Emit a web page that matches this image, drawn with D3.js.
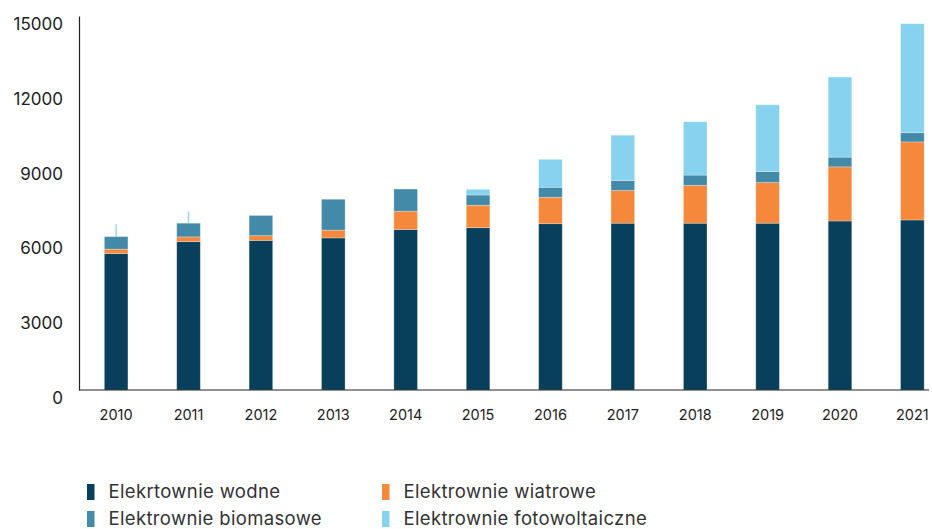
<!DOCTYPE html>
<html>
<head>
<meta charset="utf-8">
<script src="https://cdn.jsdelivr.net/npm/d3@7"></script>
<style>
  html, body { margin: 0; padding: 0; background: #fff; }
  svg { display: block; font-family: "Inter", "Noto Sans", sans-serif; }
</style>
</head>
<body>
<svg id="chart" width="932" height="529"></svg>
<script>
// Installed capacity by source, 2010–2021
const years = [2010, 2011, 2012, 2013, 2014, 2015, 2016, 2017, 2018, 2019, 2020, 2021];
const wodne = [5470, 5950, 6000, 6100, 6440, 6510, 6670, 6690, 6690, 6690, 6780, 6820];
const wiatrowe = [180, 190, 190, 310, 730, 900, 1060, 1310, 1520, 1630, 2170, 3130];
const biomasowe = [500, 550, 810, 1240, 890, 410, 400, 400, 410, 440, 390, 370];
const fotowoltaiczne = [500, 465, 0, 0, 0, 230, 1120, 1820, 2140, 2680, 3210, 4370];
// early photovoltaic entries are drawn as a hairline instead of a full bar
const hairlineYears = [2010, 2011];
const yTicks = [0, 3000, 6000, 9000, 12000, 15000];

const seriesNames = ["Elekrtownie wodne", "Elektrownie wiatrowe", "Elektrownie biomasowe", "Elektrownie fotowoltaiczne"];
const seriesColors = ["#083f5a", "#f5883a", "#428aa7", "#87d2ef"];
const seriesKeys = ["wodne", "wiatrowe", "biomasowe", "fotowoltaiczne"];

const table = years.map((y, i) => ({
  year: y,
  wodne: wodne[i],
  wiatrowe: wiatrowe[i],
  biomasowe: biomasowe[i],
  fotowoltaiczne: fotowoltaiczne[i]
}));

const svg = d3.select("#chart");

const x = d3.scaleBand()
  .domain(years)
  .range([79, 949.5])
  .paddingInner(0.674)
  .paddingOuter(0.35);

const y = d3.scaleLinear().domain([0, 15000]).range([390, 16]);

const stack = d3.stack().keys(seriesKeys);
const layers = stack(table);

const g = svg.append("g");
layers.forEach((layer, li) => {
  g.append("g")
    .attr("fill", seriesColors[li])
    .selectAll("rect")
    .data(layer.filter(d => d[1] - d[0] > 0))
    .join("rect")
    .each(function (d) {
      const hair = li === 3 && hairlineYears.includes(d.data.year);
      const sel = d3.select(this);
      const bw = x.bandwidth();
      if (hair) {
        sel.attr("x", x(d.data.year) + bw / 2 - 0.75)
          .attr("width", 1.5)
          .attr("fill-opacity", 0.85);
      } else {
        sel.attr("x", x(d.data.year))
          .attr("width", bw)
          .attr("stroke", "#ffffff")
          .attr("stroke-opacity", 0.35)
          .attr("stroke-width", 0.8);
      }
      sel.attr("y", y(d[1]))
        .attr("height", y(d[0]) - y(d[1]));
    });
});

// axes
const yAxis = d3.axisLeft(y).tickValues(yTicks).tickSize(0).tickPadding(0).tickFormat(d3.format("d"));
const yg = svg.append("g").attr("transform", "translate(79,0)").call(yAxis);
yg.select(".domain").attr("stroke", "#222").attr("stroke-width", 1.2);
yg.selectAll("text")
  .attr("x", -16)
  .attr("dy", "0.32em")
  .attr("y", 8)
  .attr("font-size", 17)
  .attr("fill", "#222")
  .attr("font-family", "Inter, sans-serif");

const xAxis = d3.axisBottom(x).tickSize(0).tickPadding(0);
const xg = svg.append("g").attr("transform", "translate(0,390)").call(xAxis);
xg.select(".domain").remove();
xg.append("line")
  .attr("x1", 79).attr("x2", 929)
  .attr("stroke", "#222").attr("stroke-width", 1.2);
xg.selectAll(".tick text")
  .attr("y", 25)
  .attr("dy", "0.32em")
  .attr("font-size", 14.5)
  .attr("fill", "#222")
  .attr("font-family", "Inter, sans-serif");

// legend
const legendItems = [
  { name: seriesNames[0], color: seriesColors[0], col: 0, row: 0 },
  { name: seriesNames[1], color: seriesColors[1], col: 1, row: 0 },
  { name: seriesNames[2], color: seriesColors[2], col: 0, row: 1 },
  { name: seriesNames[3], color: seriesColors[3], col: 1, row: 1 }
];
const colX = [87, 382];
const rowY = [492, 519];
const lg = svg.append("g");
legendItems.forEach(it => {
  lg.append("rect")
    .attr("x", colX[it.col]).attr("y", rowY[it.row] - 8)
    .attr("width", 7.5).attr("height", 16)
    .attr("fill", it.color);
  lg.append("text")
    .attr("x", colX[it.col] + 21.5).attr("y", rowY[it.row])
    .attr("dy", "0.35em")
    .attr("font-size", 18.5)
    .attr("letter-spacing", 0.35)
    .attr("fill", "#333")
    .text(it.name);
});
</script>
</body>
</html>
